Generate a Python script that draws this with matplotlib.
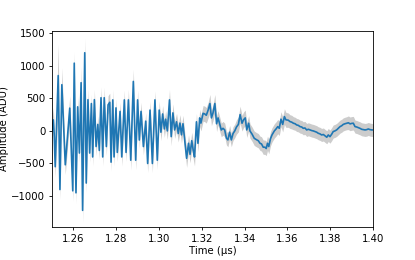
import numpy as np
import matplotlib
matplotlib.use("Agg")
import matplotlib.pyplot as plt

# waveform vertices (time in us, amplitude in ADU)
time_us = [
    1.2500, 1.2506, 1.2510, 1.2515, 1.2529, 1.2537, 1.2546, 1.2562, 1.2583, 1.2597,
    1.2604, 1.2612, 1.2620, 1.2628, 1.2636, 1.2643, 1.2653, 1.2660, 1.2668, 1.2676,
    1.2684, 1.2690, 1.2698, 1.2706, 1.2714, 1.2721, 1.2729, 1.2737, 1.2744, 1.2754,
    1.2762, 1.2770, 1.2776, 1.2784, 1.2790, 1.2799, 1.2805, 1.2818, 1.2826, 1.2838,
    1.2846, 1.2857, 1.2868, 1.2880, 1.2891, 1.2900, 1.2908, 1.2916, 1.2927, 1.2938,
    1.2947, 1.2958, 1.2969, 1.2981, 1.2992, 1.3001, 1.3009, 1.3017, 1.3025, 1.3031,
    1.3039, 1.3049, 1.3057, 1.3065, 1.3073, 1.3082, 1.3090, 1.3098, 1.3105, 1.3112,
    1.3123, 1.3129, 1.3138, 1.3145, 1.3153, 1.3160, 1.3166, 1.3175, 1.3182, 1.3190,
    1.3196, 1.3206, 1.3214, 1.3221, 1.3230, 1.3238, 1.3245, 1.3252, 1.3261, 1.3269,
    1.3276, 1.3284, 1.3291, 1.3299, 1.3307, 1.3315, 1.3322, 1.3330, 1.3338, 1.3346,
    1.3354, 1.3362, 1.3371, 1.3379, 1.3388, 1.3395, 1.3403, 1.3410, 1.3419, 1.3425,
    1.3435, 1.3445, 1.3457, 1.3464, 1.3472, 1.3479, 1.3487, 1.3495, 1.3501, 1.3507,
    1.3513, 1.3521, 1.3528, 1.3539, 1.3547, 1.3555, 1.3562, 1.3570, 1.3578, 1.3586,
    1.3593, 1.3604, 1.3612, 1.3620, 1.3628, 1.3636, 1.3643, 1.3651, 1.3659, 1.3667,
    1.3674, 1.3682, 1.3690, 1.3698, 1.3706, 1.3714, 1.3721, 1.3729, 1.3737, 1.3744,
    1.3752, 1.3760, 1.3768, 1.3776, 1.3784, 1.3791, 1.3799, 1.3807, 1.3814, 1.3822,
    1.3830, 1.3838, 1.3846, 1.3854, 1.3861, 1.3869, 1.3877, 1.3885, 1.3893, 1.3900,
    1.3908, 1.3916, 1.3924, 1.3931, 1.3939, 1.3947, 1.3955, 1.3963, 1.3971, 1.3978,
    1.3986, 1.3994, 1.4000,
]

amplitude = [
    0, 170, -40, -550, 850, -900, 710, -520, 350, -920,
    1040, -950, 370, -340, 740, -1220, 1200, -800, 480, -340,
    420, -400, 480, -240, 100, -300, 510, -400, 510, -240,
    400, 440, -480, 477, -400, 354, -330, 300, -400, 477,
    -330, 477, -450, 760, -450, 477, -140, 300, -240, 150,
    -500, 320, -500, 477, -450, 320, -20, 260, 30, 180,
    0, 477, -88, 277, 15, 140, -40, 120, -60, 110,
    -240, -420, -190, -360, -150, -300, -400, 140, -190, 200,
    120, 270, 260, 240, 323, 420, 200, 272, 420, 110,
    200, 100, 15, 40, 15, -110, -138, -20, -138, -40,
    0, 60, 100, 250, 118, 170, 200, 15, 118, 0,
    -50, -113, -138, -150, -190, -200, -250, -250, -270, -190,
    -240, -120, -62, 0, 30, 66, 40, 180, 100, 220,
    170, 165, 143, 135, 118, 110, 92, 85, 66, 60,
    40, 45, 15, 25, 15, 5, 0, -10, -20, -36,
    -45, -62, -55, -77, -97, -62, -88, -50, -10, 0,
    15, 40, 66, 80, 100, 110, 118, 125, 108, 115,
    118, 66, 60, 50, 40, 25, 20, 15, 20, 30,
    20, 15, 15,
]

# half-width of the grey band around the mean trace
spread = [
    130, 190, 140, 160, 480, 150, 260, 150, 190, 160,
    180, 170, 160, 140, 250, 190, 230, 160, 160, 140,
    140, 140, 160, 140, 130, 140, 170, 140, 160, 140,
    140, 140, 140, 160, 140, 140, 140, 140, 140, 150,
    140, 160, 150, 190, 150, 150, 130, 140, 130, 130,
    140, 140, 140, 140, 140, 140, 130, 130, 130, 130,
    130, 160, 140, 140, 130, 130, 130, 130, 130, 130,
    130, 140, 130, 130, 130, 130, 140, 130, 130, 130,
    120, 120, 120, 120, 120, 140, 120, 120, 140, 120,
    110, 110, 105, 105, 105, 105, 105, 105, 105, 105,
    105, 110, 115, 130, 120, 120, 120, 115, 115, 110,
    110, 110, 110, 110, 110, 110, 110, 110, 110, 110,
    110, 110, 110, 110, 110, 110, 110, 115, 115, 120,
    115, 110, 105, 105, 100, 100, 100, 100, 100, 100,
    100, 100, 100, 100, 100, 100, 100, 100, 100, 100,
    100, 100, 100, 100, 100, 100, 100, 100, 100, 100,
    100, 100, 100, 100, 100, 100, 100, 105, 105, 105,
    105, 100, 100, 100, 100, 100, 100, 100, 100, 100,
    100, 100, 100,
]

t = np.array(time_us)
y = np.array(amplitude, dtype=float)
s = np.array(spread, dtype=float)

plt.rcParams['font.size'] = 7.3
plt.rcParams['axes.linewidth'] = 0.6
plt.rcParams['xtick.major.width'] = 0.6
plt.rcParams['ytick.major.width'] = 0.6
plt.rcParams['xtick.major.size'] = 2.5
plt.rcParams['ytick.major.size'] = 2.5
plt.rcParams['xtick.major.pad'] = 2.3
plt.rcParams['ytick.major.pad'] = 2.3

fig = plt.figure(figsize=(4.15, 2.6), dpi=100)
ax = fig.add_axes([0.1253, 0.127, 0.7735, 0.754])

ax.fill_between(t, y - s, y + s, color='grey', alpha=0.4, linewidth=0)
ax.plot(t, y, color='#1f77b4', linewidth=1.2)

ax.set_xlim(1.25, 1.40)
ax.set_ylim(-1475, 1535)
ax.set_xticks(np.arange(1.26, 1.401, 0.02))
ax.set_yticks([-1000, -500, 0, 500, 1000, 1500])
ax.set_xlabel('Time (µs)', labelpad=1.5)
ax.set_ylabel('Amplitude (ADU)', labelpad=2)

fig.savefig('out.png', dpi=100)
